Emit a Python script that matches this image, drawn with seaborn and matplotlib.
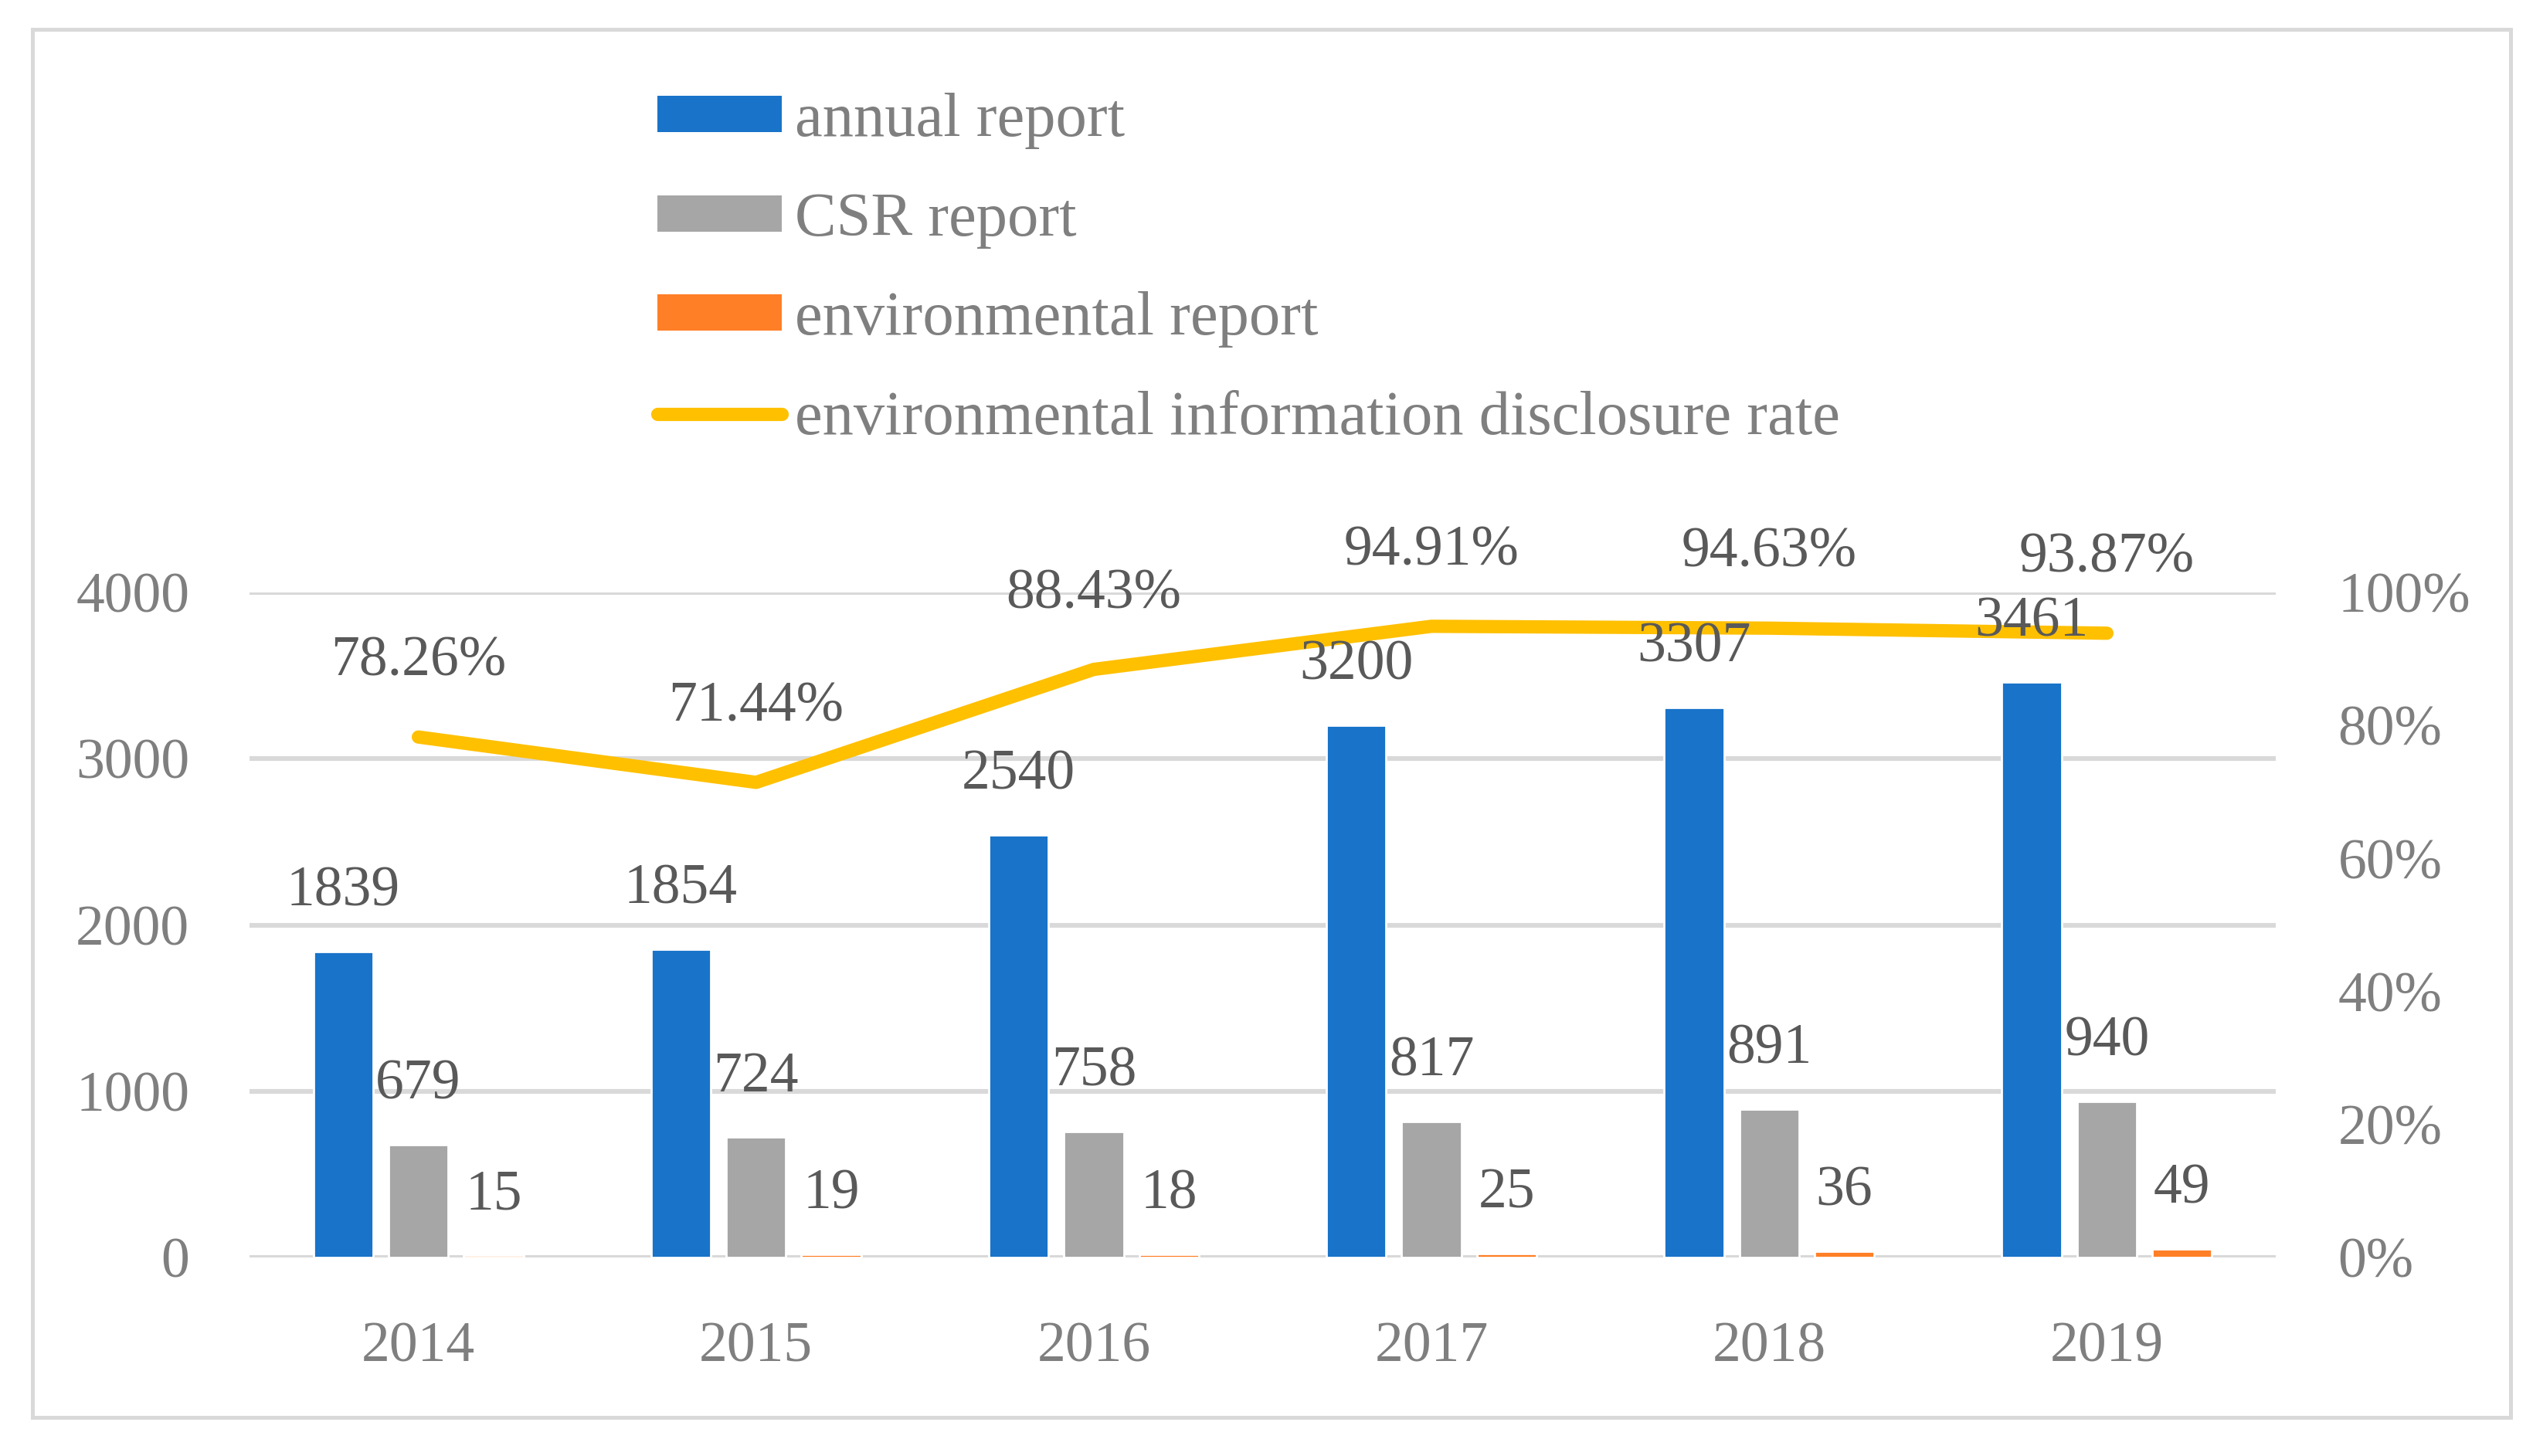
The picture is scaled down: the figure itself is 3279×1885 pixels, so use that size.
import numpy as np
import pandas as pd
import matplotlib
matplotlib.use("Agg")
import matplotlib.pyplot as plt
import seaborn as sns
from matplotlib.patches import Patch, Rectangle
from matplotlib.lines import Line2D
from matplotlib.ticker import PercentFormatter

# ---- data ----
years = ["2014", "2015", "2016", "2017", "2018", "2019"]
annual = [1839, 1854, 2540, 3200, 3307, 3461]
csr = [679, 724, 758, 817, 891, 940]
env = [15, 19, 18, 25, 36, 49]
rate = [78.26, 71.44, 88.43, 94.91, 94.63, 93.87]
series_names = ["annual report", "CSR report", "environmental report"]
line_name = "environmental information disclosure rate"
left_ticks = [0, 1000, 2000, 3000, 4000]
right_ticks = [0, 0.2, 0.4, 0.6, 0.8, 1.0]

bar_colors = ["#1873C9", "#A6A6A6", "#FF7F27"]
line_color = "#FFC000"
tick_color = "#7F7F7F"
label_color = "#595959"
grid_color = "#D9D9D9"

sns.set_style("white")
plt.rcParams["font.family"] = ["Liberation Serif", "DejaVu Serif"]
FS = 26.5
LFS = 29
LW = 6.2

W, H = 3280, 1885
fig = plt.figure(figsize=(W / 200, H / 200), dpi=200)
ax = fig.add_axes([323 / W, 1 - 1628 / H, (2946 - 323) / W, (1628 - 767) / H])

df = pd.DataFrame({
    "year": years * 3,
    "value": annual + csr + env,
    "series": np.repeat(series_names, len(years)),
})

sns.barplot(data=df, x="year", y="value", hue="series", hue_order=series_names,
            palette=bar_colors, saturation=1, width=0.6675, gap=0.205,
            ax=ax, legend=False, zorder=2)

ax.set_ylim(0, 4000)
ax.set_xlim(-0.5, len(years) - 0.5)
ax.set_yticks(left_ticks)
ax.grid(axis="y", color=grid_color, lw=2.2, zorder=0)
ax.grid(axis="x", visible=False)
ax.set_axisbelow(True)
for s in ax.spines.values():
    s.set_visible(False)
ax.set_xlabel("")
ax.set_ylabel("")
ax.tick_params(axis="y", length=0, pad=28, labelsize=FS, labelcolor=tick_color)
ax.tick_params(axis="x", length=0, pad=30, labelsize=FS, labelcolor=tick_color)

ax2 = ax.twinx()
sns.lineplot(x=np.arange(len(years)), y=np.array(rate) / 100, ax=ax2,
             color=line_color, lw=LW, solid_capstyle="round", zorder=3)
ax2.set_ylim(0, 1)
ax2.set_xlim(-0.5, len(years) - 0.5)
ax2.set_yticks(right_ticks)
ax2.yaxis.set_major_formatter(PercentFormatter(1, decimals=0))
ax2.grid(False)
for s in ax2.spines.values():
    s.set_visible(False)
ax2.set_xlabel("")
ax2.set_ylabel("")
ax2.tick_params(axis="y", length=0, pad=29, labelsize=FS, labelcolor=tick_color)

# bar value labels (drawn on top axes so they sit over the line)
for cont, vals in zip(ax.containers, [annual, csr, env]):
    for bar, v in zip(cont, vals):
        ax2.annotate(str(v), xy=(bar.get_x() + bar.get_width() / 2, bar.get_height()),
                     xycoords=ax.transData, xytext=(0, 27.8), textcoords="offset points",
                     ha="center", va="center", fontsize=FS, color=label_color, zorder=5)

for i, r in enumerate(rate):
    ax2.annotate(f"{r:.2f}%", xy=(i, r / 100), xytext=(0, 35), textcoords="offset points",
                 ha="center", va="center", fontsize=FS, color=label_color, zorder=5)

handles = [Patch(facecolor=c, edgecolor="none") for c in bar_colors]
handles.append(Line2D([0], [0], color=line_color, lw=LW, solid_capstyle="round"))
fig.legend(handles, series_names + [line_name], loc="upper left",
           bbox_to_anchor=(851 / W, 1 - 120 / H), frameon=False, fontsize=LFS,
           labelcolor=tick_color, borderpad=0, borderaxespad=0,
           handlelength=2.0, handleheight=0.52, handletextpad=0.21,
           labelspacing=0.69)

fig.add_artist(Rectangle((42 / W, 1 - 1835 / H), (3250 - 42) / W, (1835 - 38) / H,
                         transform=fig.transFigure, fill=False,
                         edgecolor=grid_color, lw=1.8))

fig.savefig("out.png", dpi=200)
